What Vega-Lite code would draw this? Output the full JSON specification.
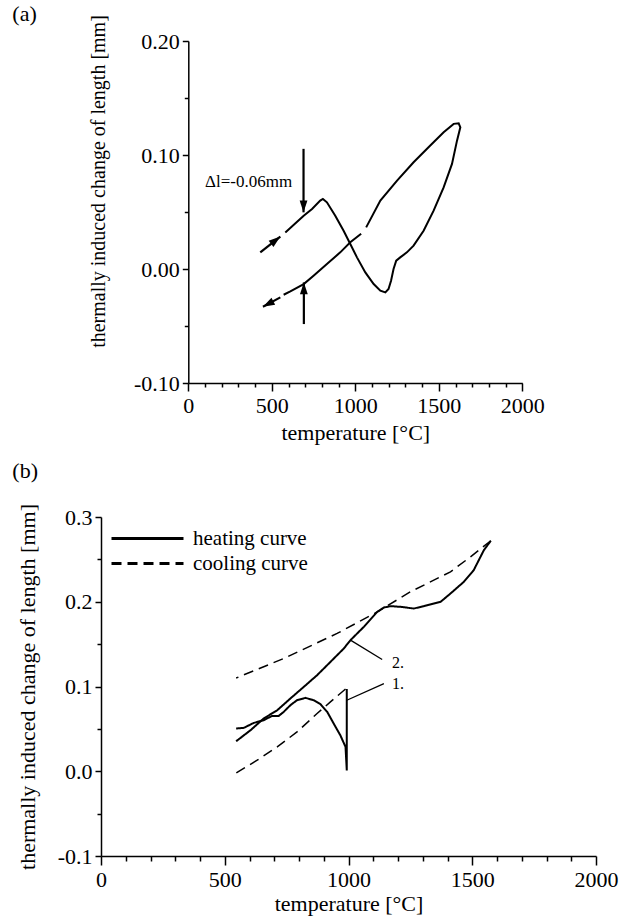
{
  "$schema": "https://vega.github.io/schema/vega-lite/v6.json",
  "background": "white",
  "padding": {"left": 12, "top": 2, "right": 5, "bottom": 5},
  "config": {
    "view": {"stroke": null},
    "font": "Liberation Serif",
    "axis": {"grid": false, "domainColor": "black", "tickColor": "black", "labelColor": "black", "titleColor": "black", "labelFont": "Liberation Serif", "titleFont": "Liberation Serif", "labelFontSize": 22, "titleFontSize": 22, "titleFontWeight": "normal", "domainWidth": 1.5, "tickWidth": 1.5, "labelOverlap": false, "labelFlush": false, "labelBound": false},
    "title": {"font": "Liberation Serif", "fontSize": 22, "fontWeight": "normal", "color": "black", "anchor": "start", "frame": "group"}
  },
  "spacing": 16,
  "resolve": {"legend": {"strokeDash": "independent"}},
  "datasets": {
    "loopA": [
      {"seg": "s1", "o": 1, "temperature": 581, "dL": 0.0321},
      {"seg": "s1", "o": 2, "temperature": 640, "dL": 0.040},
      {"seg": "s1", "o": 3, "temperature": 691, "dL": 0.0468},
      {"seg": "s1", "o": 4, "temperature": 741, "dL": 0.0527},
      {"seg": "s1", "o": 5, "temperature": 790, "dL": 0.0600},
      {"seg": "s1", "o": 6, "temperature": 806, "dL": 0.0615},
      {"seg": "s1", "o": 7, "temperature": 830, "dL": 0.0585},
      {"seg": "s1", "o": 8, "temperature": 880, "dL": 0.0468},
      {"seg": "s1", "o": 9, "temperature": 930, "dL": 0.0336},
      {"seg": "s1", "o": 10, "temperature": 970, "dL": 0.0219},
      {"seg": "s1", "o": 11, "temperature": 1010, "dL": 0.0102},
      {"seg": "s1", "o": 12, "temperature": 1060, "dL": -0.003},
      {"seg": "s1", "o": 13, "temperature": 1110, "dL": -0.0132},
      {"seg": "s1", "o": 14, "temperature": 1150, "dL": -0.019},
      {"seg": "s1", "o": 15, "temperature": 1180, "dL": -0.0205},
      {"seg": "s1", "o": 16, "temperature": 1199, "dL": -0.0176},
      {"seg": "s1", "o": 17, "temperature": 1214, "dL": -0.0103},
      {"seg": "s1", "o": 18, "temperature": 1229, "dL": 0.0},
      {"seg": "s1", "o": 19, "temperature": 1245, "dL": 0.0073},
      {"seg": "s1", "o": 20, "temperature": 1269, "dL": 0.0102},
      {"seg": "s1", "o": 21, "temperature": 1309, "dL": 0.0146},
      {"seg": "s1", "o": 22, "temperature": 1349, "dL": 0.0205},
      {"seg": "s1", "o": 23, "temperature": 1409, "dL": 0.0336},
      {"seg": "s1", "o": 24, "temperature": 1469, "dL": 0.0512},
      {"seg": "s1", "o": 25, "temperature": 1529, "dL": 0.0716},
      {"seg": "s1", "o": 26, "temperature": 1579, "dL": 0.0922},
      {"seg": "s1", "o": 27, "temperature": 1609, "dL": 0.1126},
      {"seg": "s1", "o": 28, "temperature": 1629, "dL": 0.1243},
      {"seg": "s1", "o": 29, "temperature": 1619, "dL": 0.1278},
      {"seg": "s1", "o": 30, "temperature": 1589, "dL": 0.1273},
      {"seg": "s1", "o": 31, "temperature": 1529, "dL": 0.12},
      {"seg": "s1", "o": 32, "temperature": 1449, "dL": 0.1083},
      {"seg": "s1", "o": 33, "temperature": 1349, "dL": 0.0936},
      {"seg": "s1", "o": 34, "temperature": 1250, "dL": 0.0775},
      {"seg": "s1", "o": 35, "temperature": 1150, "dL": 0.06},
      {"seg": "s1", "o": 36, "temperature": 1065, "dL": 0.0365},
      {"seg": "s2", "o": 37, "temperature": 1035, "dL": 0.0310},
      {"seg": "s2", "o": 38, "temperature": 970, "dL": 0.0234},
      {"seg": "s2", "o": 39, "temperature": 910, "dL": 0.0146},
      {"seg": "s2", "o": 40, "temperature": 830, "dL": 0.0044},
      {"seg": "s2", "o": 41, "temperature": 750, "dL": -0.0059},
      {"seg": "s2", "o": 42, "temperature": 691, "dL": -0.0132},
      {"seg": "s2", "o": 43, "temperature": 611, "dL": -0.0197},
      {"seg": "s2", "o": 44, "temperature": 571, "dL": -0.0226}
    ],
    "arrowsA": [
      {"id": "in", "temperature": 431, "dL": 0.0146, "temperature2": 551, "dL2": 0.0284},
      {"id": "out", "temperature": 551, "dL": -0.0249, "temperature2": 447, "dL2": -0.0331},
      {"id": "down", "temperature": 690, "dL": 0.1054, "temperature2": 690, "dL2": 0.0497},
      {"id": "up", "temperature": 692, "dL": -0.0483, "temperature2": 692, "dL2": -0.0118}
    ],
    "curvesB": [
      {"series": "h1", "kind": "heating curve", "o": 1, "temperature": 546, "dL": 0.0504},
      {"series": "h1", "kind": "heating curve", "o": 2, "temperature": 577, "dL": 0.0512},
      {"series": "h1", "kind": "heating curve", "o": 3, "temperature": 617, "dL": 0.057},
      {"series": "h1", "kind": "heating curve", "o": 4, "temperature": 657, "dL": 0.0602},
      {"series": "h1", "kind": "heating curve", "o": 5, "temperature": 691, "dL": 0.0653},
      {"series": "h1", "kind": "heating curve", "o": 6, "temperature": 718, "dL": 0.0653},
      {"series": "h1", "kind": "heating curve", "o": 7, "temperature": 738, "dL": 0.070},
      {"series": "h1", "kind": "heating curve", "o": 8, "temperature": 765, "dL": 0.0779},
      {"series": "h1", "kind": "heating curve", "o": 9, "temperature": 792, "dL": 0.0838},
      {"series": "h1", "kind": "heating curve", "o": 10, "temperature": 826, "dL": 0.0866},
      {"series": "h1", "kind": "heating curve", "o": 11, "temperature": 860, "dL": 0.0838},
      {"series": "h1", "kind": "heating curve", "o": 12, "temperature": 887, "dL": 0.0791},
      {"series": "h1", "kind": "heating curve", "o": 13, "temperature": 914, "dL": 0.070},
      {"series": "h1", "kind": "heating curve", "o": 14, "temperature": 940, "dL": 0.0563},
      {"series": "h1", "kind": "heating curve", "o": 15, "temperature": 967, "dL": 0.0425},
      {"series": "h1", "kind": "heating curve", "o": 16, "temperature": 988, "dL": 0.0287},
      {"series": "h1", "kind": "heating curve", "o": 17, "temperature": 993, "dL": 0.001},
      {"series": "h1", "kind": "heating curve", "o": 18, "temperature": 993, "dL": 0.097},
      {"series": "c1", "kind": "cooling curve", "o": 1, "temperature": 988, "dL": 0.097},
      {"series": "c1", "kind": "cooling curve", "o": 2, "temperature": 927, "dL": 0.0818},
      {"series": "c1", "kind": "cooling curve", "o": 3, "temperature": 873, "dL": 0.0681},
      {"series": "c1", "kind": "cooling curve", "o": 4, "temperature": 792, "dL": 0.0464},
      {"series": "c1", "kind": "cooling curve", "o": 5, "temperature": 712, "dL": 0.0287},
      {"series": "c1", "kind": "cooling curve", "o": 6, "temperature": 631, "dL": 0.013},
      {"series": "c1", "kind": "cooling curve", "o": 7, "temperature": 546, "dL": -0.002},
      {"series": "h2", "kind": "heating curve", "o": 1, "temperature": 546, "dL": 0.0354},
      {"series": "h2", "kind": "heating curve", "o": 2, "temperature": 604, "dL": 0.0484},
      {"series": "h2", "kind": "heating curve", "o": 3, "temperature": 657, "dL": 0.0622},
      {"series": "h2", "kind": "heating curve", "o": 4, "temperature": 712, "dL": 0.072},
      {"series": "h2", "kind": "heating curve", "o": 5, "temperature": 765, "dL": 0.0858},
      {"series": "h2", "kind": "heating curve", "o": 6, "temperature": 819, "dL": 0.0995},
      {"series": "h2", "kind": "heating curve", "o": 7, "temperature": 873, "dL": 0.1133},
      {"series": "h2", "kind": "heating curve", "o": 8, "temperature": 927, "dL": 0.129},
      {"series": "h2", "kind": "heating curve", "o": 9, "temperature": 981, "dL": 0.1448},
      {"series": "h2", "kind": "heating curve", "o": 10, "temperature": 1008, "dL": 0.1547},
      {"series": "h2", "kind": "heating curve", "o": 11, "temperature": 1062, "dL": 0.1704},
      {"series": "h2", "kind": "heating curve", "o": 12, "temperature": 1116, "dL": 0.188},
      {"series": "h2", "kind": "heating curve", "o": 13, "temperature": 1143, "dL": 0.1932},
      {"series": "h2", "kind": "heating curve", "o": 14, "temperature": 1170, "dL": 0.1948},
      {"series": "h2", "kind": "heating curve", "o": 15, "temperature": 1210, "dL": 0.194},
      {"series": "h2", "kind": "heating curve", "o": 16, "temperature": 1264, "dL": 0.192},
      {"series": "h2", "kind": "heating curve", "o": 17, "temperature": 1304, "dL": 0.1948},
      {"series": "h2", "kind": "heating curve", "o": 18, "temperature": 1372, "dL": 0.1999},
      {"series": "h2", "kind": "heating curve", "o": 19, "temperature": 1412, "dL": 0.2097},
      {"series": "h2", "kind": "heating curve", "o": 20, "temperature": 1466, "dL": 0.2235},
      {"series": "h2", "kind": "heating curve", "o": 21, "temperature": 1506, "dL": 0.2373},
      {"series": "h2", "kind": "heating curve", "o": 22, "temperature": 1547, "dL": 0.2609},
      {"series": "h2", "kind": "heating curve", "o": 23, "temperature": 1575, "dL": 0.272},
      {"series": "c2", "kind": "cooling curve", "o": 1, "temperature": 1575, "dL": 0.272},
      {"series": "c2", "kind": "cooling curve", "o": 2, "temperature": 1493, "dL": 0.253},
      {"series": "c2", "kind": "cooling curve", "o": 3, "temperature": 1412, "dL": 0.2353},
      {"series": "c2", "kind": "cooling curve", "o": 4, "temperature": 1250, "dL": 0.2117},
      {"series": "c2", "kind": "cooling curve", "o": 5, "temperature": 1116, "dL": 0.188},
      {"series": "c2", "kind": "cooling curve", "o": 6, "temperature": 954, "dL": 0.1626},
      {"series": "c2", "kind": "cooling curve", "o": 7, "temperature": 738, "dL": 0.133},
      {"series": "c2", "kind": "cooling curve", "o": 8, "temperature": 546, "dL": 0.110}
    ],
    "leadersB": [
      {"label": "2.", "temperature": 1008, "dL": 0.1547, "temperature2": 1136, "dL2": 0.1319, "tx": 1176, "ty": 0.128},
      {"label": "1.", "temperature": 993, "dL": 0.0838, "temperature2": 1143, "dL2": 0.1035, "tx": 1176, "ty": 0.1025}
    ]
  },
  "vconcat": [
    {
      "width": 422,
      "height": 342,
      "title": {"text": "(a)", "dx": -88.7, "dy": 15},
      "layer": [
        {
          "data": {"name": "loopA"},
          "mark": {"type": "line", "color": "black", "strokeWidth": 2},
          "encoding": {
            "x": {"field": "temperature", "type": "quantitative", "scale": {"domain": [0, 2000], "nice": false, "range": [87.3, 421.3]},
              "axis": {"title": "temperature [°C]", "values": [0,100,200,300,400,500,600,700,800,900,1000,1100,1200,1300,1400,1500,1600,1700,1800,1900,2000], "tickCount": 100, "format": "d",
                "labelExpr": "datum.value % 500 === 0 ? datum.label : ''",
                "labelOverlap": false, "labelFont": "Liberation Serif", "titleFont": "Liberation Serif", "labelFontSize": 22, "titleFontSize": 22,
                "tickSize": {"condition": {"test": "datum.value % 500 === 0", "value": 8}, "value": 4},
                "labelPadding": 4, "titlePadding": 6}},
            "y": {"field": "dL", "type": "quantitative", "scale": {"domain": [-0.1, 0.2], "nice": false, "zero": false},
              "axis": {"title": "thermally induced change of length [mm]", "titleFontSize": 20, "titleY": 140, "offset": -87.3, "values": [-0.1,-0.05,0,0.05,0.1,0.15,0.2], "tickCount": 100, "format": ".2f",
                "labelExpr": "abs(round(datum.value*100)) % 10 === 0 ? replace(datum.label, '\u2212', '-') : ''",
                "labelOverlap": false, "labelFont": "Liberation Serif", "titleFont": "Liberation Serif", "labelFontSize": 22,
                "tickSize": {"condition": {"test": "abs(round(datum.value*100)) % 10 === 0", "value": 6}, "value": 4},
                "labelPadding": 3, "titlePadding": 25}},
            "detail": {"field": "seg"},
            "order": {"field": "o", "type": "quantitative"}
          }
        },
        {
          "data": {"name": "arrowsA"},
          "mark": {"type": "rule", "color": "black", "strokeWidth": 2.2},
          "encoding": {
            "x": {"field": "temperature", "type": "quantitative"},
            "y": {"field": "dL", "type": "quantitative"},
            "x2": {"field": "temperature2"},
            "y2": {"field": "dL2"}
          }
        },
        {
          "data": {"name": "arrowsA"},
          "mark": {"type": "point", "shape": "M0,0L0.6,1.8L-0.6,1.8Z", "filled": true, "color": "black", "opacity": 1, "size": 170},
          "encoding": {
            "x": {"field": "temperature2", "type": "quantitative"},
            "y": {"field": "dL2", "type": "quantitative"},
            "angle": {"condition": [{"test": "datum.id === 'in'", "value": 52}, {"test": "datum.id === 'out'", "value": 242}, {"test": "datum.id === 'down'", "value": 180}], "value": 0}
          }
        },
        {
          "data": {"values": [{"label": "Δl=-0.06mm", "temperature": 622, "dL": 0.076}]},
          "mark": {"type": "text", "align": "right", "baseline": "middle", "font": "Liberation Serif", "fontSize": 17, "color": "black"},
          "encoding": {
            "x": {"field": "temperature", "type": "quantitative"},
            "y": {"field": "dL", "type": "quantitative"},
            "text": {"field": "label"}
          }
        }
      ]
    },
    {
      "width": 495,
      "height": 339,
      "title": {"text": "(b)", "dx": -88.7, "dy": -17},
      "layer": [
        {
          "data": {"name": "curvesB"},
          "mark": {"type": "line", "color": "black"},
          "encoding": {
            "x": {"field": "temperature", "type": "quantitative", "scale": {"domain": [0, 2000], "nice": false},
              "axis": {"title": "temperature [°C]", "values": [0,100,200,300,400,500,600,700,800,900,1000,1100,1200,1300,1400,1500,1600,1700,1800,1900,2000], "tickCount": 100, "format": "d",
                "labelExpr": "datum.value % 500 === 0 ? datum.label : ''",
                "labelOverlap": false, "labelFont": "Liberation Serif", "titleFont": "Liberation Serif", "labelFontSize": 22, "titleFontSize": 22,
                "tickSize": {"condition": {"test": "datum.value % 500 === 0", "value": 9}, "value": 5},
                "labelPadding": 4, "titlePadding": 3}},
            "y": {"field": "dL", "type": "quantitative", "scale": {"domain": [-0.1, 0.3], "nice": false, "zero": false},
              "axis": {"title": "thermally induced change of length [mm]", "values": [-0.1,-0.05,0,0.05,0.1,0.15,0.2,0.25,0.3], "tickCount": 100, "format": ".1f",
                "labelExpr": "abs(round(datum.value*100)) % 10 === 0 ? replace(datum.label, '\u2212', '-') : ''",
                "labelOverlap": false, "labelFont": "Liberation Serif", "titleFont": "Liberation Serif", "labelFontSize": 22, "titleFontSize": 22,
                "tickSize": {"condition": {"test": "abs(round(datum.value*100)) % 10 === 0", "value": 6}, "value": 4},
                "labelPadding": 3, "titlePadding": 18}},
            "detail": {"field": "series"},
            "order": {"field": "o", "type": "quantitative"},
            "strokeWidth": {"condition": {"test": "datum.kind === 'heating curve'", "value": 2}, "value": 1.5},
            "strokeDash": {"field": "kind", "type": "nominal", "scale": {"domain": ["heating curve", "cooling curve"], "range": [[1, 0], [10, 6]]},
              "legend": {"title": null, "orient": "top-left", "offset": 9, "symbolType": "stroke", "symbolSize": 5184, "symbolStrokeWidth": 3, "symbolStrokeColor": "black", "clipHeight": 25, "rowPadding": 0, "labelOffset": 8, "labelFont": "Liberation Serif", "labelFontSize": 21, "labelColor": "black", "padding": 0}}
          }
        },
        {
          "data": {"name": "leadersB"},
          "mark": {"type": "rule", "color": "black", "strokeWidth": 1.3},
          "encoding": {
            "x": {"field": "temperature", "type": "quantitative"},
            "y": {"field": "dL", "type": "quantitative"},
            "x2": {"field": "temperature2"},
            "y2": {"field": "dL2"}
          }
        },
        {
          "data": {"name": "leadersB"},
          "mark": {"type": "text", "align": "left", "baseline": "middle", "font": "Liberation Serif", "fontSize": 16, "color": "black"},
          "encoding": {
            "x": {"field": "tx", "type": "quantitative"},
            "y": {"field": "ty", "type": "quantitative"},
            "text": {"field": "label"}
          }
        }
      ]
    }
  ]
}
